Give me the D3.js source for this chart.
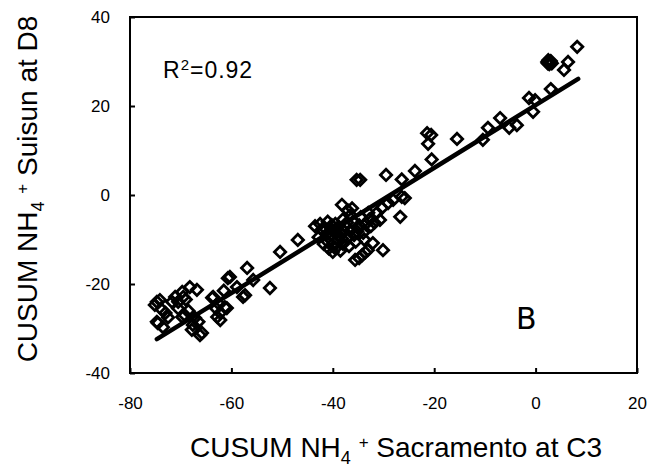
<!DOCTYPE html>
<html>
<head>
<meta charset="utf-8">
<script src="https://cdn.jsdelivr.net/npm/d3@7"></script>
<style>
  body { margin: 0; background: #fff; }
  svg { display: block; font-family: "Liberation Sans", Arial, sans-serif; }
  text { white-space: pre; }
</style>
</head>
<body>
<svg id="chart" width="652" height="469"></svg>
<script>
// CUSUM NH4+ at Sacramento C3 (x) vs Suisun D8 (y)
const cusumC3 = [
  8.2, 6.4, 5.6, 2.3, 2.7, 3.0, 2.8, 2.5, 3.2, 2.4, 2.9, 2.6, 2.7,
  3.0, -1.3, -0.1, -0.5, -3.7, -5.2, -7.0, -9.4, -10.4, -15.5,
  -21.4, -20.6, -21.2, -20.5, -23.8, -26.4, -29.5, -35.3, -34.6, -25.8, -26.7, -38.2,
  -31.3, -30.3, -29.1, -28.1, -26.4, -30.7,
  -43.5, -42.5, -42.0, -41.5, -41.0, -40.5, -40.0, -39.5, -39.0, -38.5, -38.0, -38.0,
  -37.5, -37.0, -36.5, -36.5, -36.0, -35.5, -35.0, -34.5, -34.0, -33.5, -33.0, -32.5,
  -39.5, -38.5, -41.0, -37.0,
  -42.8, -41.8, -40.8, -39.8, -38.8, -37.8, -36.8, -35.8, -34.8, -36.2, -39.2, -40.2,
  -37.2, -35.2, -33.8, -32.8, -31.8, -38.2, -41.2, -42.2,
  -35.6, -34.2, -33.1, -30.1, -32.1, -40.0, -34.8, -33.6,
  -46.9, -50.4, -52.4,
  -56.9, -55.7, -60.7, -58.9, -57.3, -63.8, -62.6, -61.3, -62.2, -60.3, -57.7,
  -68.2, -66.8, -69.7, -71.1, -71.7, -74.1, -74.7, -75.1, -73.7, -74.5, -73.5, -74.7,
  -69.2, -67.2, -67.8, -66.2, -65.8, -69.7, -67.6, -63.6, -62.8, -62.2, -60.9, -70.5, -69.5,
  -70.5, -69.0, -72.5, -66.5, -68.5, -73.0, -61.5, -63.0
];
const cusumD8 = [
  33.3, 29.9, 28.1, 29.9, 29.4, 30.1, 29.8, 30.3, 29.6, 29.6, 30.0, 30.0, 29.7,
  23.8, 21.8, 21.3, 18.7, 15.7, 15.1, 17.3, 15.1, 12.4, 12.6,
  13.9, 13.5, 11.5, 8.0, 5.4, 3.5, 4.5, 3.4, 3.4, -0.7, -4.9, -2.2,
  -4.0, -2.9, -1.8, -1.1, -0.4, -5.6,
  -7.0, -6.5, -8.0, -7.5, -6.0, -9.0, -8.0, -6.5, -10.0, -8.5, -5.5, -11.0,
  -7.0, -9.5, -4.5, -8.0, -6.0, -10.5, -7.5, -5.0, -8.5, -6.5, -4.0, -7.0,
  -12.0, -12.5, -10.5, -3.5,
  -9.5, -11.0, -12.0, -10.8, -9.0, -8.2, -11.5, -9.0, -6.8, -3.0, -7.5, -6.8,
  -6.2, -8.2, -10.0, -5.5, -6.2, -9.8, -8.8, -7.8,
  -14.6, -13.5, -12.4, -12.4, -10.8, -12.8, -14.2, -12.9,
  -10.1, -12.8, -20.9,
  -16.4, -19.1, -18.7, -20.7, -22.5, -23.1, -24.3, -25.2, -26.5, -18.4, -22.9,
  -20.7, -21.3, -21.8, -22.9, -24.0, -23.6, -24.0, -24.7, -25.8, -28.8, -29.7, -28.5,
  -27.0, -27.6, -30.3, -31.5, -31.0, -27.4, -29.2, -22.9, -27.4, -28.1, -25.4, -24.0, -22.9,
  -25.5, -23.5, -27.5, -28.5, -26.0, -26.5, -21.5, -25.5
];

// ends of the fitted line
const fitC3 = [-74.7, 8.4];
const fitD8 = [-32.4, 26.1];

const xTicks = [-80, -60, -40, -20, 0, 20];
const yTicks = [-40, -20, 0, 20, 40];
const rSquared = '0.92';
const panelLabel = 'B';

const svg = d3.select('#chart');
const x = d3.scaleLinear().domain([-80, 20]).range([130, 637]);
const y = d3.scaleLinear().domain([-40, 40]).range([373, 17]);

// axes, ticks pointing inwards
const xAxis = svg.append('g')
    .attr('transform', `translate(0,${y(-40)})`)
    .call(d3.axisBottom(x).tickValues(xTicks).tickSizeInner(-5).tickSizeOuter(0)
      .tickPadding(24).tickFormat(d => String(d)));
const yAxis = svg.append('g')
    .attr('transform', `translate(${x(-80)},0)`)
    .call(d3.axisLeft(y).tickValues(yTicks).tickSizeInner(-5).tickSizeOuter(0)
      .tickPadding(20).tickFormat(d => String(d)));

[xAxis, yAxis].forEach(a => {
  a.select('.domain').remove();
  a.selectAll('line').attr('stroke', '#000').attr('stroke-width', 2);
  a.selectAll('text').attr('fill', '#000')
      .style('font-family', '"Liberation Sans", Arial, sans-serif')
      .style('font-size', '17px');
});

svg.append('rect')
    .attr('x', x(-80)).attr('y', y(40))
    .attr('width', x(20) - x(-80)).attr('height', y(-40) - y(40))
    .attr('fill', 'none').attr('stroke', '#000').attr('stroke-width', 2);

// regression line
svg.append('line')
    .attr('x1', x(fitC3[0])).attr('y1', y(fitD8[0]))
    .attr('x2', x(fitC3[1])).attr('y2', y(fitD8[1]))
    .attr('stroke', '#000').attr('stroke-width', 4.5).attr('stroke-linecap', 'round');

// open diamonds
const diamond = d3.symbol(d3.symbolSquare, 64);
svg.append('g').selectAll('path')
    .data(d3.range(cusumC3.length))
  .enter().append('path')
    .attr('d', diamond)
    .attr('transform', i => `translate(${x(cusumC3[i])},${y(cusumD8[i])}) rotate(45)`)
    .attr('fill', 'none')
    .attr('stroke', '#000')
    .attr('stroke-width', 2.8);

// axis titles with NH4+ sub/superscripts
function title(sel, tail) {
  sel.append('tspan').text('CUSUM NH');
  sel.append('tspan').attr('dy', 7).style('font-size', '18px').text('4');
  sel.append('tspan').attr('dy', -7).text(' ');
  sel.append('tspan').attr('dy', -9).style('font-size', '17px').text('+');
  sel.append('tspan').attr('dy', 9).text(' ' + tail);
}

svg.append('text')
    .attr('x', 396).attr('y', 457)
    .attr('text-anchor', 'middle')
    .style('font-size', '28px')
    .call(title, 'Sacramento at C3');

svg.append('text')
    .attr('transform', 'translate(37,189) rotate(-90)')
    .attr('text-anchor', 'middle')
    .style('font-size', '28px')
    .call(title, 'Suisun at D8');

// R² label
const r2 = svg.append('text')
    .attr('x', 163).attr('y', 78)
    .style('font-size', '23px')
    .style('letter-spacing', '1px');
r2.append('tspan').text('R');
r2.append('tspan').attr('dy', -8).style('font-size', '15px').text('2');
r2.append('tspan').attr('dy', 8).text('=' + rSquared);

svg.append('text')
    .attr('x', 516).attr('y', 329)
    .style('font-family', '"DejaVu Sans", sans-serif')
    .style('font-size', '30px')
    .text(panelLabel);
</script>
</body>
</html>
